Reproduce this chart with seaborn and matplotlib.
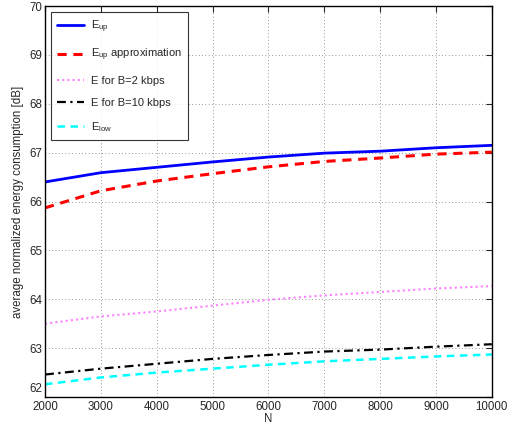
import matplotlib
matplotlib.use("Agg")
import matplotlib.pyplot as plt
import matplotlib.transforms as mtransforms
import seaborn as sns
import pandas as pd

N = [2000, 3000, 4000, 5000, 6000, 7000, 8000, 9000, 10000]
E_up = [66.40, 66.59, 66.70, 66.81, 66.91, 66.99, 67.03, 67.10, 67.15]
E_up_approx = [65.87, 66.22, 66.42, 66.57, 66.71, 66.82, 66.89, 66.97, 67.01]
E_B2 = [63.50, 63.65, 63.75, 63.87, 63.99, 64.08, 64.15, 64.22, 64.27]
E_B10 = [62.46, 62.58, 62.68, 62.78, 62.86, 62.93, 62.97, 63.03, 63.08]
E_low = [62.26, 62.40, 62.50, 62.58, 62.66, 62.73, 62.78, 62.83, 62.87]

labels = [r"E$_{\mathrm{up}}$", r"E$_{\mathrm{up}}$ approximation",
          "E for B=2 kbps", "E for B=10 kbps", r"E$_{\mathrm{low}}$"]
series = [E_up, E_up_approx, E_B2, E_B10, E_low]

sns.set_style("white")
plt.rcParams["font.family"] = ["Liberation Sans", "DejaVu Sans"]
plt.rcParams["mathtext.fontset"] = "custom"
plt.rcParams["mathtext.rm"] = "Liberation Sans"
plt.rcParams["mathtext.default"] = "regular"

fig = plt.figure(figsize=(5.15, 4.32), dpi=100)
ax = fig.add_axes([0.0874, 0.081, 0.8676, 0.905])

styles = [
    dict(color="#0000ff", linestyle="-", linewidth=2.0),
    dict(color="#ff0000", linestyle=(0, (3, 2.2)), linewidth=2.2),
    dict(color="#ff80ff", linestyle=(0, (1, 1.5)), linewidth=1.5),
    dict(color="#000000", linestyle=(0, (4, 2, 1, 2)), linewidth=1.6),
    dict(color="#00ffff", linestyle=(0, (3, 2.2)), linewidth=1.8),
]

for lab, ys, st in zip(labels, series, styles):
    df = pd.DataFrame({"N": N, "E": ys})
    sns.lineplot(data=df, x="N", y="E", ax=ax, label=lab, **st)

ax.set_xlim(2000, 10000)
ax.set_ylim(62, 70)
ax.set_xticks(N)
ax.set_yticks(range(62, 71))
ax.tick_params(direction="in", top=True, right=True, labelsize=8.3, length=4, width=0.8, pad=2)
ax.tick_params(axis="x", pad=3)
ax.grid(True, linestyle=(0, (1, 3)), color="#777777", linewidth=0.6)
for s in ax.spines.values():
    s.set_color("black")
    s.set_linewidth(1.0)
ax.set_xlabel("N", fontsize=8.3, labelpad=0)
ax.set_ylabel("average normalized energy consumption [dB]", fontsize=8.3, labelpad=4)

# MATLAB-style: lowest y tick label nudged up so it clears the first x label
fig.canvas.draw()
ylabels = ax.get_yticklabels()
offset = mtransforms.ScaledTranslation(0, 7 / 72, fig.dpi_scale_trans)
ylabels[0].set_transform(ylabels[0].get_transform() + offset)

leg = ax.legend(loc="upper left", fontsize=8, frameon=True, fancybox=False,
                edgecolor="black", borderpad=0.6, labelspacing=1.1,
                handlelength=2.4, handletextpad=0.6, borderaxespad=0.5)
leg.get_frame().set_linewidth(0.8)

fig.savefig("out.png", dpi=100)
